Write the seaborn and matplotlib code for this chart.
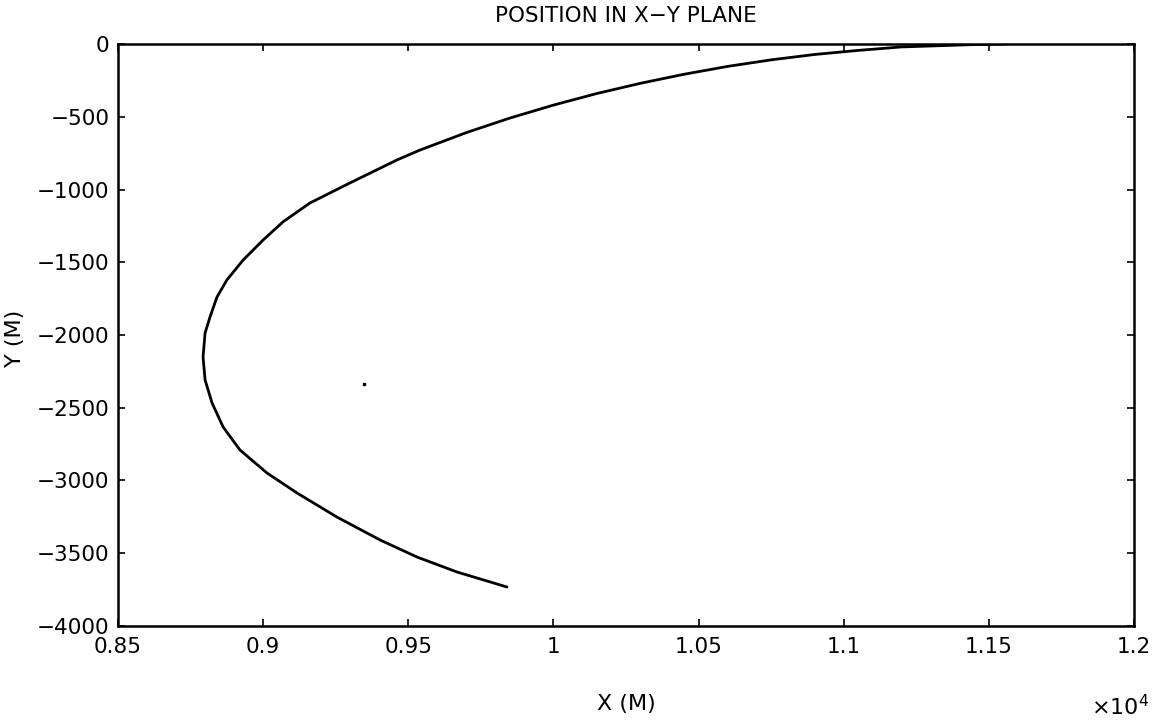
import matplotlib
matplotlib.use("Agg")
import matplotlib.pyplot as plt
import matplotlib.ticker as mticker
import seaborn as sns
import pandas as pd

# Trajectory in the X-Y plane (metres)
x_m = [11550, 11450, 11200, 11050, 10900, 10750, 10600, 10450, 10300, 10150,
       10000, 9850, 9700, 9540, 9461,
       9299, 9161, 9068, 9000, 8931, 8875, 8841, 8817, 8800, 8793,
       8800, 8824, 8862, 8920, 9013, 9117, 9254, 9403, 9530, 9668, 9840]
y_m = [0, -4, -20, -44, -72, -109, -154, -208, -270, -340,
       -420, -509, -609, -729, -797,
       -955, -1093, -1223, -1347, -1485, -1622, -1739, -1876, -1986, -2151,
       -2309, -2467, -2632, -2790, -2948, -3086, -3251, -3409, -3526, -3629, -3732]

# isolated speck visible in the scan
speck_x = [9347]
speck_y = [-2337]

x_ticks = [8500, 9000, 9500, 10000, 10500, 11000, 11500, 12000]
y_ticks = [-4000, -3500, -3000, -2500, -2000, -1500, -1000, -500, 0]

title = "POSITION IN X\u2212Y PLANE"
xlabel = "X (M)"
ylabel = "Y (M)"

sns.set_theme(style="white")
plt.rcParams["font.family"] = ["DejaVu Sans"]

fig = plt.figure(figsize=(11.61, 7.23), dpi=100)
ax = fig.add_axes([118 / 1161, 1 - 626 / 723, 1016 / 1161, 582 / 723])

df = pd.DataFrame({"x": x_m, "y": y_m})
sns.lineplot(data=df, x="x", y="y", sort=False, estimator=None,
             color="black", linewidth=2.0, ax=ax)
ax.plot(speck_x, speck_y, marker="s", markersize=1.5, color="black", linestyle="none")

ax.set_xlim(8500, 12000)
ax.set_ylim(-4000, 0)
ax.set_xticks(x_ticks)
ax.set_yticks(y_ticks)
ax.xaxis.set_major_formatter(mticker.FuncFormatter(lambda v, p: "%g" % (v / 1e4)))
ax.yaxis.set_major_formatter(
    mticker.FuncFormatter(lambda v, p: ("\u2212%d" % abs(v)) if v < 0 else "0"))

for s in ax.spines.values():
    s.set_color("black")
    s.set_linewidth(1.8)

ax.tick_params(axis="both", which="major", direction="in", length=5, width=1.2,
               color="black", labelsize=15.5, labelcolor="black",
               top=True, right=True, bottom=True, left=True)
ax.tick_params(axis="x", pad=8)
ax.tick_params(axis="y", pad=6)

ax.set_title(title, fontsize=15.5, color="black", pad=16)
ax.set_xlabel(xlabel, fontsize=16, color="black")
ax.set_ylabel(ylabel, fontsize=16, color="black")
ax.xaxis.set_label_coords(0.5, -0.116)
ax.xaxis.label.set_va("top")
ax.yaxis.set_label_coords(-0.0915, 0.495)

fig.text(1120 / 1161, 1 - 707 / 723, r"$\mathregular{\times10^4}$", fontsize=16,
         ha="center", va="center", color="black")

fig.savefig("out.png", dpi=100, facecolor="white")
